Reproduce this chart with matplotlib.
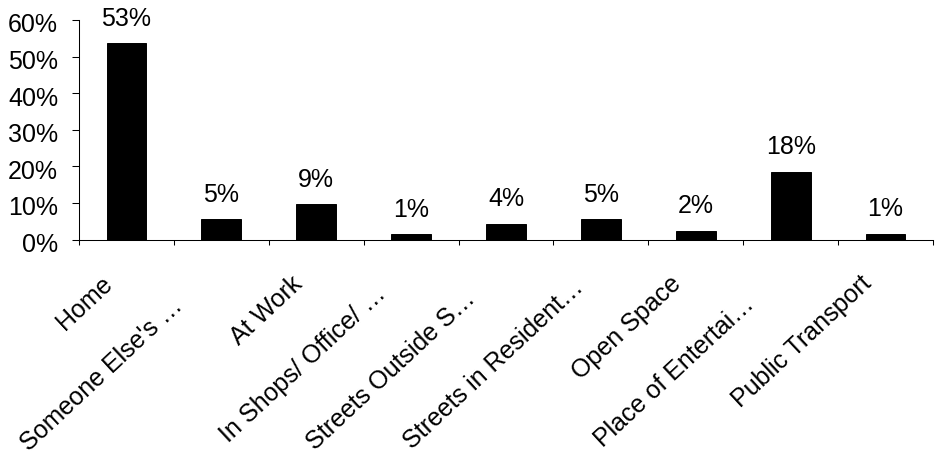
import matplotlib.pyplot as plt
import matplotlib.transforms as mtransforms
import numpy as np

plt.rcParams['font.family'] = ['Liberation Sans', 'DejaVu Sans']

# categories, bar heights (as drawn) and the printed labels
places = ["Home", "Someone Else's \u2026", "At Work", "In Shops/ Office/ \u2026",
          "Streets Outside S\u2026", "Streets in Resident\u2026", "Open Space",
          "Place of Entertai\u2026", "Public Transport"]
shares = [53.7, 5.5, 9.6, 1.5, 4.3, 5.5, 2.4, 18.5, 1.6]
share_labels = ["53%", "5%", "9%", "1%", "4%", "5%", "2%", "18%", "1%"]
yticks = [0, 10, 20, 30, 40, 50, 60]

# layout only: how far (px) each truncated label slides back along its own direction
label_slide = [0, -33, 0, -15, -22, -5, 0, -30, 0]

fs = 18
rot = 43

fig = plt.figure(figsize=(9.37, 4.63), dpi=100)
ax = fig.add_axes([79 / 937, 1 - 239.5 / 463, (933 - 79) / 937, (239.5 - 20) / 463])

xs = np.arange(len(places))
bars = ax.bar(xs, shares, width=0.42, color='black', edgecolor='black', linewidth=0.7)

for b, lab in zip(bars, share_labels):
    ax.annotate(lab, (b.get_x() + b.get_width() / 2, b.get_height()),
                xytext=(0, 12.6), textcoords='offset points',
                ha='center', va='baseline', fontsize=fs)

ax.set_xlim(-0.5, len(places) - 0.5)
ax.set_ylim(0, 60)
ax.set_yticks(yticks)
ax.set_yticklabels(["%d%%" % t for t in yticks], fontsize=fs)

# labels at centres, tick marks at category boundaries
ax.set_xticks(xs)
ax.set_xticklabels(places, fontsize=fs, rotation=rot, ha='right', va='baseline',
                   rotation_mode='anchor')
ax.set_xticks(np.arange(-0.5, len(places)), minor=True)
ax.tick_params(axis='x', which='major', length=0, pad=0)
ax.tick_params(axis='x', which='minor', length=3.6, width=0.75, direction='out')
ax.tick_params(axis='y', length=5, width=0.75, direction='out', pad=10)

c, s = np.cos(np.radians(rot)), np.sin(np.radians(rot))
for lab, sl in zip(ax.get_xticklabels(), label_slide):
    dx = (-13 + sl * c) / 100
    dy = (-46 + sl * s) / 100
    lab.set_transform(lab.get_transform() + mtransforms.ScaledTranslation(dx, dy, fig.dpi_scale_trans))

down = mtransforms.ScaledTranslation(0, -3 / 100, fig.dpi_scale_trans)
for lab in ax.get_yticklabels():
    lab.set_transform(lab.get_transform() + down)

for sp in ['top', 'right']:
    ax.spines[sp].set_visible(False)
ax.spines['left'].set_linewidth(0.75)
ax.spines['bottom'].set_linewidth(0.75)

fig.savefig('out.png', dpi=100)
